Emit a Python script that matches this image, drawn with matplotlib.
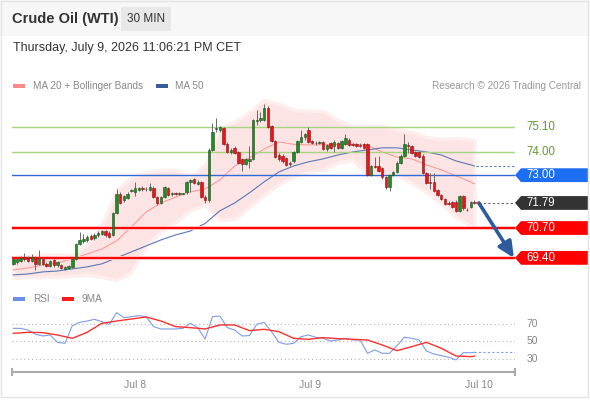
import numpy as np
import matplotlib.pyplot as plt
from matplotlib.patches import Polygon, Rectangle
from matplotlib.transforms import blended_transform_factory

plt.rcParams['font.family'] = ['Liberation Sans', 'DejaVu Sans']

W, H = 590, 400

# 30 min candles, Jul 7 - Jul 9
opens = [69.15, 69.22, 69.25, 69.45, 69.40, 69.28, 69.40, 69.15, 69.35, 69.15,
         69.05, 69.30, 69.10, 69.10, 68.93, 68.95, 69.02, 69.35, 70.00, 70.15,
         70.20, 70.35, 70.25, 70.38, 70.45, 70.55, 70.50, 70.40, 71.35, 72.18,
         71.90, 72.02, 72.32, 72.27, 72.35, 72.45, 72.38, 72.35, 72.45, 72.05,
         71.80, 72.05, 72.45, 72.18, 72.22, 72.18, 72.20, 72.25, 72.70, 72.82,
         72.62, 72.70, 72.05, 71.90, 74.10, 75.00, 74.95, 75.05, 74.35, 74.00,
         74.20, 74.00, 73.70, 73.50, 73.62, 73.70, 75.35, 75.38, 75.40, 75.93,
         75.15, 74.50, 73.88, 73.85, 73.75, 73.55, 73.62, 74.00, 74.45, 74.65,
         74.95, 74.50, 74.42, 74.40, 74.45, 74.15, 74.40, 74.25, 74.40, 74.20,
         74.35, 74.55, 74.35, 74.35, 74.33, 74.35, 74.35, 73.00, 73.40, 73.40,
         73.30, 72.90, 72.48, 73.00, 73.15, 73.55, 73.85, 74.30, 74.25, 74.00,
         74.00, 73.85, 73.10, 72.70, 72.70, 72.35, 72.15, 71.95, 71.80, 71.82,
         71.85, 71.45, 72.10, 71.50, 71.62, 71.85]
highs = [69.40, 69.42, 69.48, 69.62, 69.50, 69.55, 69.48, 69.75, 69.42, 69.22,
         69.32, 69.35, 69.28, 69.15, 69.05, 69.10, 69.40, 70.05, 70.53, 70.42,
         70.40, 70.42, 70.48, 70.55, 70.60, 70.62, 70.58, 71.40, 72.42, 72.25,
         72.15, 72.25, 72.40, 72.70, 72.50, 72.52, 72.48, 72.65, 72.52, 72.10,
         72.10, 72.55, 72.50, 72.25, 72.28, 72.25, 72.24, 72.75, 72.82, 72.88,
         72.80, 72.75, 72.12, 74.20, 75.27, 75.50, 75.15, 75.10, 74.45, 74.20,
         74.25, 74.05, 73.75, 73.75, 74.25, 75.45, 75.82, 75.75, 76.10, 76.00,
         75.20, 74.55, 73.95, 73.90, 73.80, 73.62, 74.05, 74.55, 74.95, 74.85,
         75.10, 74.55, 74.50, 74.48, 74.50, 74.35, 74.45, 74.55, 74.45, 74.55,
         74.80, 74.60, 74.42, 74.40, 74.40, 74.40, 74.40, 73.45, 73.80, 73.85,
         73.35, 72.95, 73.05, 73.20, 73.60, 73.90, 74.80, 74.45, 74.30, 74.05,
         74.05, 73.90, 73.15, 73.10, 73.10, 72.40, 72.20, 72.00, 71.88, 71.88,
         71.90, 72.15, 72.15, 71.58, 71.88, 71.90]
lows = [69.10, 69.15, 69.20, 69.28, 69.22, 69.22, 68.88, 69.10, 69.08, 69.00,
        69.00, 69.02, 69.00, 68.92, 68.88, 68.90, 68.98, 69.30, 69.95, 70.05,
        70.10, 70.18, 70.20, 70.30, 70.38, 70.32, 70.28, 70.35, 71.30, 71.75,
        71.85, 71.98, 72.28, 72.10, 72.30, 72.32, 72.33, 72.30, 72.00, 71.70,
        71.75, 72.00, 72.10, 72.10, 72.12, 72.12, 72.16, 72.20, 72.28, 72.60,
        72.58, 72.00, 71.80, 71.85, 74.05, 74.90, 74.90, 74.30, 73.95, 73.90,
        73.92, 73.50, 73.18, 73.45, 73.30, 73.65, 75.20, 75.30, 75.35, 75.05,
        74.45, 73.75, 73.62, 73.55, 73.40, 73.42, 73.55, 73.95, 74.40, 74.55,
        74.40, 74.35, 74.30, 74.35, 74.10, 74.05, 74.15, 74.00, 74.15, 74.15,
        74.30, 74.25, 74.25, 74.22, 74.22, 74.15, 72.98, 72.95, 73.30, 73.15,
        72.85, 72.40, 72.30, 72.95, 73.10, 73.50, 73.80, 73.95, 73.90, 73.80,
        73.75, 73.05, 72.60, 72.40, 72.28, 72.10, 71.90, 71.70, 71.70, 71.55,
        71.40, 71.40, 71.50, 71.42, 71.55, 71.75]
closes = [69.33, 69.36, 69.40, 69.33, 69.28, 69.43, 69.15, 69.40, 69.12, 69.05,
          69.28, 69.08, 69.20, 68.96, 69.02, 69.05, 69.35, 70.00, 70.20, 70.22,
          70.30, 70.22, 70.40, 70.48, 70.55, 70.38, 70.32, 71.35, 72.18, 71.79,
          72.10, 72.20, 72.35, 72.45, 72.45, 72.38, 72.42, 72.50, 72.05, 71.79,
          72.05, 72.48, 72.15, 72.22, 72.18, 72.20, 72.22, 72.70, 72.78, 72.65,
          72.72, 72.05, 71.92, 74.10, 74.88, 75.05, 75.08, 74.35, 74.02, 74.10,
          73.98, 73.55, 73.50, 73.70, 73.72, 75.40, 75.42, 75.50, 75.93, 75.10,
          74.50, 73.80, 73.70, 73.62, 73.45, 73.50, 74.00, 74.50, 74.65, 74.78,
          74.45, 74.40, 74.38, 74.42, 74.15, 74.30, 74.20, 74.45, 74.20, 74.50,
          74.60, 74.30, 74.30, 74.28, 74.28, 74.20, 73.00, 73.40, 73.35, 73.20,
          72.90, 72.48, 73.00, 73.15, 73.55, 73.85, 74.35, 74.25, 73.95, 73.85,
          73.80, 73.10, 72.65, 72.65, 72.32, 72.15, 71.95, 71.75, 71.75, 71.60,
          71.45, 72.10, 71.58, 71.48, 71.85, 71.79]

# indicators, read every 4th candle
ma_idx = list(range(0, 125, 4)) + [125]
ma20 = [68.88, 68.96, 69.09, 69.18, 69.36, 69.57, 69.79, 70.14, 70.75, 71.40,
        71.79, 72.05, 72.27, 72.40, 72.79, 73.40, 73.75, 74.14, 74.45, 74.34,
        74.32, 74.32, 74.34, 74.36, 74.30, 74.01, 73.79, 73.71, 73.45, 73.23,
        72.97, 72.71, 72.62]
ma50 = [68.66, 68.70, 68.79, 68.83, 68.92, 69.01, 69.14, 69.40, 69.66, 69.92,
        70.18, 70.40, 70.57, 70.90, 71.45, 71.79, 72.23, 72.71, 73.14, 73.40,
        73.58, 73.71, 73.88, 74.01, 74.10, 74.19, 74.19, 74.10, 74.01, 73.88,
        73.62, 73.45, 73.40]
bb_upper = [69.44, 69.49, 69.53, 69.53, 69.53, 69.96, 70.83, 72.36, 72.92, 73.14,
            73.23, 73.23, 72.97, 73.45, 75.06, 75.32, 75.75, 76.28, 76.10, 75.84,
            75.80, 75.80, 75.40, 75.14, 75.14, 75.14, 75.01, 74.88, 74.66, 74.58,
            74.62, 74.53, 74.53]
bb_lower = [68.53, 68.57, 68.57, 68.57, 68.62, 68.66, 68.57, 68.44, 68.79, 69.96,
            70.53, 70.97, 71.49, 71.71, 71.05, 71.10, 71.62, 72.14, 72.62, 72.92,
            73.14, 73.23, 73.58, 73.66, 73.01, 73.05, 73.01, 72.66, 72.27, 71.75,
            71.18, 70.79, 70.70]

rsi_idx = list(range(0, 125, 2)) + [125]
rsi = [65.0, 65.0, 63.1, 58.2, 56.3, 57.4, 49.0, 47.9, 68.1, 71.9,
       73.4, 75.3, 72.7, 69.6, 83.0, 77.2, 78.4, 79.5, 78.4, 67.0,
       64.3, 64.3, 64.3, 65.0, 70.8, 65.8, 52.9, 78.4, 79.1, 65.8,
       63.1, 56.3, 56.7, 69.6, 71.9, 61.2, 49.0, 46.8, 47.9, 55.5,
       57.4, 54.8, 53.6, 50.6, 51.7, 53.6, 51.7, 51.7, 36.5, 40.3,
       36.5, 36.5, 45.2, 54.8, 53.6, 51.7, 39.1, 35.7, 33.8, 31.9,
       28.9, 37.2, 37.2, 37.6]
rsi_ma = [59.3, 60.5, 60.1, 57.4, 53.6, 60.5, 70.8, 73.4, 75.7, 78.0,
          73.4, 67.0, 65.8, 64.3, 68.9, 68.9, 62.4, 63.9, 61.2, 53.6,
          52.5, 54.4, 53.2, 52.5, 51.7, 46.0, 39.5, 44.1, 49.0, 42.2,
          33.4, 32.7, 33.2]

resistances = [75.10, 74.00]
pivot = 73.00
supports = [70.70, 69.40]
rsi_levels = [70, 50, 30]
day_ticks = [33, 80.5, 126.2]
day_labels = ['Jul 8', 'Jul 9', 'Jul 10']

fig = plt.figure(figsize=(5.9, 4), dpi=100)
fig.patch.set_facecolor('white')


def fx(px):
    return px / W


def fy(py):
    return 1 - py / H


# header
fig.add_artist(Rectangle((0, fy(36)), 1, 36 / H, transform=fig.transFigure,
                         color='#f7f7f7', lw=0, zorder=0))
fig.add_artist(Rectangle((fx(1), fy(397)), 587 / W, 396 / H, transform=fig.transFigure,
                         fill=False, ec='#e4e4e4', lw=1))
fig.text(fx(12), fy(19), 'Crude Oil (WTI)', fontsize=10.5, fontweight='bold',
         color='#333333', va='center')
fig.add_artist(Rectangle((fx(121), fy(31)), 50 / W, 24 / H, transform=fig.transFigure,
                         color='#e8e8e8', lw=0))
fig.text(fx(146), fy(19), '30 MIN', fontsize=8.5, color='#333333', ha='center', va='center')
fig.text(fx(13), fy(48), 'Thursday, July 9, 2026 11:06:21 PM CET', fontsize=9,
         color='#333333', va='center')

# legend row
fig.add_artist(Rectangle((fx(13), fy(88)), 12 / W, 4 / H, transform=fig.transFigure,
                         color='#ff8888', lw=0))
fig.text(fx(33), fy(86), 'MA 20 + Bollinger Bands', fontsize=7.2, color='#888888', va='center')
fig.add_artist(Rectangle((fx(156), fy(88)), 12 / W, 4 / H, transform=fig.transFigure,
                         color='#3a5d9c', lw=0))
fig.text(fx(175), fy(86), 'MA 50', fontsize=7.2, color='#888888', va='center')
fig.text(fx(581), fy(86), 'Research \u00a9 2026 Trading Central', fontsize=7.2,
         color='#999999', ha='right', va='center')

# price panel
ax = fig.add_axes([fx(12), fy(285), 503 / W, 193 / H])
ax.set_xlim(-0.35, 136.0)
ax.set_ylim(68.22, 76.62)
ax.axis('off')
n = len(closes)
x = np.arange(n)

ax.fill_between(ma_idx, bb_lower, bb_upper, color='#fde4e4', lw=2.5,
                edgecolor='#feeeee', zorder=1)
ax.plot(ma_idx, ma20, color='#ff9a9a', lw=0.8, zorder=2)
ax.plot(ma_idx, ma50, color='#5878b8', lw=0.8, zorder=2)
ax.hlines(ma50[-1], n - 0.6, 136.0, color='#5878b8', lw=0.8, ls=(0, (2, 2)), zorder=2)

for lv in resistances:
    ax.axhline(lv, color='#a6d47f', lw=1.0, zorder=2)
ax.axhline(pivot, color='#2f6ad8', lw=1.0, zorder=2)
for lv in supports:
    ax.axhline(lv, color='#ffc0c0', lw=2.8, zorder=2)
    ax.axhline(lv, color='#ff0000', lw=1.4, zorder=2)
ax.hlines(closes[-1], n + 0.2, 136.0, color='#666666', lw=0.8, ls=(0, (2, 2)), zorder=2)

o = np.array(opens)
c = np.array(closes)
up = c >= o
body_lo = np.minimum(o, c)
body_h = np.maximum(np.abs(c - o), 0.025)
ax.vlines(x, lows, highs, color='#6a6a6a', lw=0.7, zorder=3)
ax.bar(x, body_h, bottom=body_lo, width=0.66,
       color=np.where(up, '#238b23', '#e8141a'),
       edgecolor=np.where(up, '#1d4d1d', '#8a1010'), lw=0.4, zorder=4)

# right-hand labels
tr = blended_transform_factory(ax.transAxes, ax.transData)
hh = 0.30


def tag(level, face, txt_color='white'):
    pts = [(1.0, level), (1.012, level + hh), (1.145, level + hh),
           (1.145, level - hh), (1.012, level - hh)]
    ax.add_patch(Polygon(pts, closed=True, transform=tr, color=face, lw=0,
                         clip_on=False, zorder=5))
    ax.text(1.023, level, f'{level:.2f}', transform=tr, color=txt_color,
            fontsize=8.3, va='center', ha='left', zorder=6, clip_on=False)


for lv in resistances:
    ax.text(1.023, lv, f'{lv:.2f}', transform=tr, color='#5c9e2e',
            fontsize=8.3, va='center', ha='left')
tag(pivot, '#1c6ef2')
tag(closes[-1], '#333333')
for lv in supports:
    tag(lv, '#ff0000')

ax.annotate('', xy=(135.7, supports[-1]), xytext=(n + 0.2, closes[-1]),
            arrowprops=dict(arrowstyle='-|>,head_length=0.95,head_width=0.45',
                            color='#2d5c9b', lw=2.6, shrinkA=0, shrinkB=0),
            annotation_clip=False, zorder=6)

# RSI panel
fig.add_artist(Rectangle((fx(13), fy(301)), 12 / W, 4 / H, transform=fig.transFigure,
                         color='#6d8fe8', lw=0))
fig.text(fx(33), fy(299), 'RSI', fontsize=7.2, color='#888888', va='center')
fig.add_artist(Rectangle((fx(62), fy(301)), 12 / W, 4 / H, transform=fig.transFigure,
                         color='#ff1a1a', lw=0))
fig.text(fx(82), fy(299), '9MA', fontsize=7.2, color='#888888', va='center')

ax2 = fig.add_axes([fx(12), fy(372), 503 / W, 67 / H])
ax2.set_xlim(-0.35, 136.0)
ax2.set_ylim(15.1, 91.7)
for s in ['top', 'left', 'right']:
    ax2.spines[s].set_visible(False)
ax2.spines['bottom'].set_color('#aaaaaa')
ax2.spines['bottom'].set_linewidth(1.5)
ax2.set_yticks([])
ax2.set_xticks(day_ticks, day_labels)
ax2.tick_params(axis='x', length=0, pad=6, labelsize=7.5, labelcolor='#888888')
for xa in (0, 1):
    ax2.plot([xa, xa], [-0.05, 0.05], transform=ax2.transAxes, color='#aaaaaa',
             lw=1.5, clip_on=False)

tr2 = blended_transform_factory(ax2.transAxes, ax2.transData)
for lv in rsi_levels:
    ax2.axhline(lv, color='#b5b5b5', lw=0.8, ls=(0, (1, 2.5)))
    ax2.text(1.023, lv, str(lv), transform=tr2, color='#888888', fontsize=7.5, va='center')

ax2.plot(rsi_idx, rsi, color='#7d9de8', lw=0.8)
ax2.hlines(rsi[-1], rsi_idx[-1], 136.0, color='#7d9de8', lw=0.8, ls=(0, (2, 2)))
ax2.plot(ma_idx, rsi_ma, color='#ff3030', lw=1.0)

fig.savefig('out.png', dpi=100)
